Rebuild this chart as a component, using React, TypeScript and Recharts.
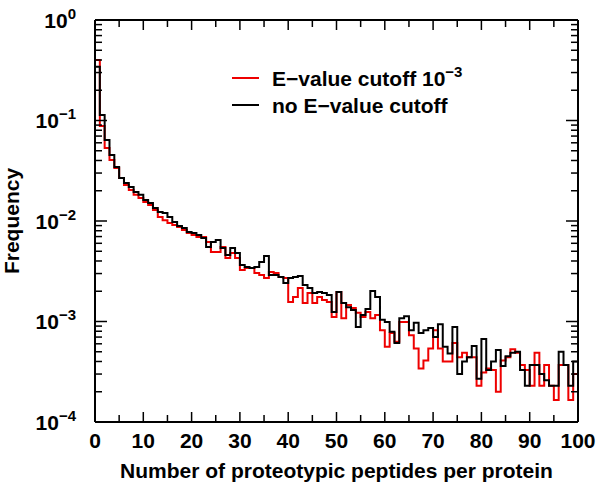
import React from 'react';
import { LineChart, Line, XAxis, YAxis, Legend } from 'recharts';

// Bin lower edges (number of proteotypic peptides per protein)
const binStarts = [
  0, 1, 2, 3, 4, 5, 6, 7, 8, 9, 10, 11, 12, 13, 14, 15, 16, 17, 18, 19,
  20, 21, 22, 23, 24, 25, 26, 27, 28, 29, 30, 31, 32, 33, 34, 35, 36, 37, 38, 39,
  40, 41, 42, 43, 44, 45, 46, 47, 48, 49, 50, 51, 52, 53, 54, 55, 56, 57, 58, 59,
  60, 61, 62, 63, 64, 65, 66, 67, 68, 69, 70, 71, 72, 73, 74, 75, 76, 77, 78, 79,
  80, 81, 82, 83, 84, 85, 86, 87, 88, 89, 90, 91, 92, 93, 94, 95, 96, 97, 98, 99,
];
const lastEdge = 100;

// E-value cutoff 10^-3 (red)
const cutoffFreq = [
  0.40, 0.088, 0.0532, 0.0404, 0.0337, 0.0268, 0.0228, 0.0203, 0.0182, 0.0169,
  0.01545, 0.0144, 0.01286, 0.01096, 0.0102, 0.00955, 0.00912, 0.00871, 0.00813, 0.0076,
  0.00726, 0.00693, 0.00693, 0.00618, 0.00492, 0.00492, 0.00551, 0.00428, 0.00481, 0.00428,
  0.00325, 0.0034, 0.0034, 0.00304, 0.0029, 0.00271, 0.00311, 0.00304, 0.00277, 0.00271,
  0.00156, 0.00175, 0.00215, 0.00153, 0.00192, 0.00153, 0.00175, 0.00164, 0.00156, 0.00111,
  0.00197, 0.00108, 0.00146, 0.00136, 0.00122, 0.00111, 0.00124, 0.00108, 0.00116, 0.00082,
  0.00056, 0.00077, 0.00063, 0.00099, 0.00099, 0.00073, 0.00054, 0.00034, 0.00041, 0.00054,
  0.00082, 0.00054, 0.0004, 0.0004, 0.00061, 0.00044, 0.00049, 0.00044, 0.00044, 0.00023,
  0.00031, 0.00034, 0.00033, 0.0002, 0.00041, 0.00044, 0.00053, 0.00049, 0.00037, 0.00033,
  0.00023, 0.00049, 0.00023, 0.00037, 0.00023, 0.000166, 0.00037, 0.00037, 0.000166, 0.0003,
];

// no E-value cutoff (black)
const noCutoffFreq = [
  0.343, 0.1135, 0.064, 0.0454, 0.0345, 0.0268, 0.0239, 0.0218, 0.0194, 0.0182,
  0.0162, 0.0151, 0.01346, 0.0123, 0.012, 0.01096, 0.00977, 0.00892, 0.00852, 0.00778,
  0.0076, 0.00726, 0.00677, 0.00551, 0.00618, 0.00647, 0.00539, 0.00459, 0.00539, 0.00481,
  0.00365, 0.00348, 0.0034, 0.00348, 0.00391, 0.00449, 0.0029, 0.0029, 0.00277, 0.00242,
  0.00271, 0.00277, 0.00284, 0.00231, 0.00215, 0.00192, 0.00197, 0.00192, 0.00184, 0.00124,
  0.00197, 0.00153, 0.00139, 0.0013, 0.00088, 0.00116, 0.00133, 0.00201, 0.00175, 0.00104,
  0.00099, 0.00079, 0.00061, 0.00108, 0.00113, 0.00082, 0.00097, 0.00077, 0.00082, 0.00086,
  0.0007, 0.00094, 0.00056, 0.00048, 0.00088, 0.0003, 0.0004, 0.00044, 0.00057, 0.00027,
  0.00067, 0.00033, 0.0004, 0.00052, 0.00036, 0.00045, 0.00049, 0.0005, 0.00033, 0.00023,
  0.00037, 0.00037, 0.0003, 0.00026, 0.00023, 0.00023, 0.0005, 0.00037, 0.00023, 0.0004,
];

const xTicks = [0, 5, 10, 15, 20, 25, 30, 35, 40, 45, 50, 55, 60, 65, 70, 75, 80, 85, 90, 95, 100];
const xLabelTicks = [0, 10, 20, 30, 40, 50, 60, 70, 80, 90, 100];
const yDecades = [1e-4, 1e-3, 1e-2, 1e-1, 1];
const yMultipliers = [1, 2, 3, 4, 5, 6, 7, 8, 9];

const seriesNames = { red: 'E\u2212value cutoff 10', black: 'no E\u2212value cutoff' };

const yTicks: number[] = [];
yDecades.forEach((d, i) => {
  if (i === yDecades.length - 1) {
    yTicks.push(d);
  } else {
    yMultipliers.forEach((m) => yTicks.push(d * m));
  }
});

const data = binStarts.map((x, i) => ({ x, red: cutoffFreq[i], black: noCutoffFreq[i] }));
data.push({ x: lastEdge, red: cutoffFreq[cutoffFreq.length - 1], black: noCutoffFreq[noCutoffFreq.length - 1] });

const FONT = '"Liberation Sans", Arial, Helvetica, sans-serif';
const textStyle: React.CSSProperties = { fontFamily: FONT, fontWeight: 'bold', fontSize: 21 };

const isDecade = (v: number) => Math.abs(Math.log10(v) - Math.round(Math.log10(v))) < 1e-6;
const isLabeledX = (v: number) => xLabelTicks.includes(v);

const BottomTick = (props: any) => {
  const { x, y, payload } = props;
  const v = payload.value;
  const major = isLabeledX(v);
  return (
    <g>
      <line x1={x} x2={x} y1={y} y2={y - (major ? 10 : 7)} stroke="#000" strokeWidth={1.5} />
      {major && (
        <text x={x} y={y + 25.5} textAnchor="middle" fill="#000" style={textStyle}>
          {v}
        </text>
      )}
    </g>
  );
};

const TopTick = (props: any) => {
  const { x, y, payload } = props;
  const major = isLabeledX(payload.value);
  return <line x1={x} x2={x} y1={y} y2={y + (major ? 10 : 7)} stroke="#000" strokeWidth={1.5} />;
};

const LeftTick = (props: any) => {
  const { x, y, payload } = props;
  const v = payload.value;
  const major = isDecade(v);
  const exp = Math.round(Math.log10(v));
  const expStr = exp === 0 ? '0' : '\u2212' + String(-exp);
  return (
    <g>
      <line x1={x} x2={x + (major ? 12 : 7)} y1={y} y2={y} stroke="#000" strokeWidth={1.5} />
      {major && (
        <text x={x - 19} y={y + 7.5} textAnchor="end" fill="#000" style={textStyle}>
          10
          <tspan dy={-9} style={{ fontSize: 15 }}>
            {expStr}
          </tspan>
        </text>
      )}
    </g>
  );
};

const RightTick = (props: any) => {
  const { x, y, payload } = props;
  const major = isDecade(payload.value);
  return <line x1={x} x2={x - (major ? 12 : 7)} y1={y} y2={y} stroke="#000" strokeWidth={1.5} />;
};

const XTitle = (props: any) => {
  const vb = props.viewBox;
  return (
    <text x={vb.x + vb.width / 2} y={vb.y + 56} textAnchor="middle" fill="#000" style={textStyle}>
      Number of proteotypic peptides per protein
    </text>
  );
};

const YTitle = (props: any) => {
  const vb = props.viewBox;
  const cx = vb.x + 19;
  const cy = vb.y + vb.height / 2;
  return (
    <text x={cx} y={cy} textAnchor="middle" fill="#000" transform={`rotate(-90, ${cx}, ${cy})`} style={textStyle}>
      Frequency
    </text>
  );
};

const LegendContent = (props: any) => {
  const payload = props.payload || [];
  const rows = [
    { key: 'red', y: 78, color: '#ee0000' },
    { key: 'black', y: 105, color: '#000' },
  ];
  return (
    <svg width={600} height={486} style={{ position: 'absolute', left: 0, top: 0, pointerEvents: 'none' }}>
      {rows.map((r) => {
        const item = payload.find((p: any) => p.dataKey === r.key);
        const color = item ? item.color : r.color;
        return (
          <g key={r.key}>
            <line x1={232} x2={259} y1={r.y} y2={r.y} stroke={color} strokeWidth={2} />
            <text x={272} y={r.y + 7.5} fill="#000" style={textStyle}>
              {seriesNames[r.key as 'red' | 'black']}
              {r.key === 'red' && (
                <tspan dy={-9} style={{ fontSize: 15 }}>
                  {'\u22123'}
                </tspan>
              )}
            </text>
          </g>
        );
      })}
    </svg>
  );
};

export default function App() {
  return (
    <div style={{ position: 'absolute', left: 0, top: 0, width: 600, height: 486, background: '#fff' }}>
      <LineChart width={600} height={486} data={data} margin={{ top: 0, right: 0, bottom: 0, left: 0 }}>
        <XAxis
          xAxisId="bottom"
          dataKey="x"
          type="number"
          domain={[0, 100]}
          ticks={xTicks}
          interval={0}
          orientation="bottom"
          height={64}
          tickSize={0}
          tickMargin={0}
          tickLine={false}
          axisLine={{ stroke: '#000', strokeWidth: 2 }}
          tick={<BottomTick />}
          label={<XTitle />}
        />
        <XAxis
          xAxisId="top"
          dataKey="x"
          type="number"
          domain={[0, 100]}
          ticks={xTicks}
          interval={0}
          orientation="top"
          height={20}
          tickSize={0}
          tickMargin={0}
          tickLine={false}
          axisLine={{ stroke: '#000', strokeWidth: 2 }}
          tick={<TopTick />}
        />
        <YAxis
          yAxisId="left"
          type="number"
          scale="log"
          domain={[1e-4, 1]}
          allowDataOverflow
          ticks={yTicks}
          interval={0}
          orientation="left"
          width={95}
          tickSize={0}
          tickMargin={0}
          tickLine={false}
          axisLine={{ stroke: '#000', strokeWidth: 2 }}
          tick={<LeftTick />}
          label={<YTitle />}
        />
        <YAxis
          yAxisId="right"
          type="number"
          scale="log"
          domain={[1e-4, 1]}
          allowDataOverflow
          ticks={yTicks}
          interval={0}
          orientation="right"
          width={22}
          tickSize={0}
          tickMargin={0}
          tickLine={false}
          axisLine={{ stroke: '#000', strokeWidth: 2 }}
          tick={<RightTick />}
        />
        <Line
          xAxisId="bottom"
          yAxisId="left"
          type="stepAfter"
          dataKey="red"
          name={seriesNames.red}
          stroke="#ee0000"
          strokeWidth={2}
          dot={false}
          activeDot={false}
          isAnimationActive={false}
        />
        <Line
          xAxisId="bottom"
          yAxisId="left"
          type="stepAfter"
          dataKey="black"
          name={seriesNames.black}
          stroke="#000"
          strokeWidth={2}
          dot={false}
          activeDot={false}
          isAnimationActive={false}
        />
        <Legend
          layout="vertical"
          align="center"
          verticalAlign="middle"
          wrapperStyle={{ position: 'absolute', left: 0, top: 0, width: 600, height: 486, pointerEvents: 'none' }}
          content={<LegendContent />}
        />
      </LineChart>
    </div>
  );
}
